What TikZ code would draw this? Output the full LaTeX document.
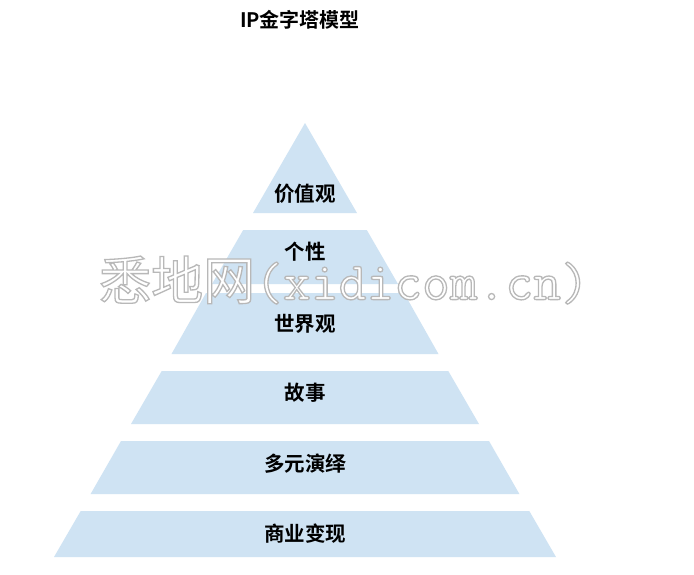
\documentclass[tikz,border=0pt]{standalone}
\usepackage{fontspec}
\newfontfamily\cjkbold{Noto Sans CJK SC Bold}
\newfontfamily\cjkreg{Noto Sans CJK SC}
\definecolor{layerblue}{RGB}{207,227,243}
\tikzset{
  layer/.style={fill=layerblue, draw=none},
  lbl/.style={font=\cjkbold\fontsize{20.5}{24}\selectfont, text=black, inner sep=0pt},
  ttl/.style={font=\cjkbold\fontsize{20}{23}\selectfont, text=black, inner sep=0pt},
  wm/.style={inner sep=0pt, anchor=west, text=white}
}
\newcommand{\wmtext}{\special{pdf:literal 2 Tr 1.3 w 0.72 G}{\cjkreg\fontsize{52}{56}\selectfont 悉地网}{\ttfamily\fontsize{54}{58}\selectfont (xidicom.cn)}\special{pdf:literal 0 Tr}}
\begin{document}
\begin{tikzpicture}[x=1pt,y=-1pt]
\useasboundingbox (0,0) rectangle (694,574);
\fill[white] (0,0) rectangle (694,574);
% title
\node[ttl] (title) at (300,20) {IP金字塔模型};
% layers
\fill[layer] (305,123) -- (357,213) -- (253,213) -- cycle;
\fill[layer] (243.2,230) -- (366.8,230) -- (398,284) -- (212,284) -- cycle;
\fill[layer] (206,293) -- (404,293) -- (438.5,354) -- (171.5,354) -- cycle;
\fill[layer] (161.7,371) -- (448.3,371) -- (479,424) -- (131,424) -- cycle;
\fill[layer] (121,441) -- (489,441) -- (519.4,494) -- (90.6,494) -- cycle;
\fill[layer] (80.7,511) -- (529.3,511) -- (556,557) -- (54,557) -- cycle;
% labels
\node[lbl] (l1) at (305,194) {价值观};
\node[lbl] (l2) at (305,252) {个性};
\node[lbl] (l3) at (305,324) {世界观};
\node[lbl] (l4) at (305,393) {故事};
\node[lbl] (l5) at (305,464) {多元演绎};
\node[lbl] (l6) at (305,534) {商业变现};
% watermark (outlined text)
\node[wm] (wmark) at (99,280) {\wmtext};
\end{tikzpicture}
\end{document}
